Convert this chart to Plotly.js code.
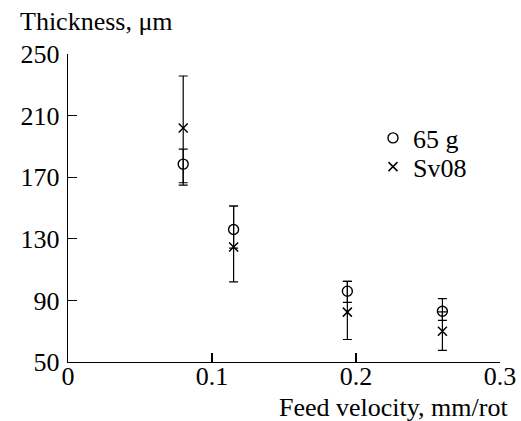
<!DOCTYPE html>
<html>
<head>
<meta charset="utf-8">
<script src="https://cdn.plot.ly/plotly-3.0.1.min.js"></script>
<style>html,body{margin:0;padding:0;background:#fff;}#chart{width:521px;height:421px;}</style>
</head>
<body>
<div id="chart"></div>
<script>
// Feed velocity, mm/rot
const feedVelocity = [0.08, 0.115, 0.194, 0.26];

// Series "65 g"
const thickness65g = [178.5, 136, 96, 83];
const err65gPlus = [9.7, 15.3, 6.4, 8.1];
const err65gMinus = [12.1, 12, 7.3, 6];

// Series "Sv08"
const thicknessSv08 = [201.9, 124.7, 82.4, 70];
const errSv08Plus = [33.8, 26.6, 20, 12.5];
const errSv08Minus = [37, 22.7, 17.8, 12.5];

const xTicks = [0, 0.1, 0.2, 0.3];
const xTickText = ['0', '0.1', '0.2', '0.3'];
const yTicks = [50, 90, 130, 170, 210, 250];

const FONT = 'Liberation Serif';
const FS = 26;

const traces = [
  {
    x: feedVelocity, y: thickness65g, name: '65 g', type: 'scatter', mode: 'markers',
    legend: 'legend',
    marker: {symbol: 'circle-open', size: 10, color: '#000', line: {width: 1.4, color: '#000'}},
    error_y: {type: 'data', symmetric: false, array: err65gPlus, arrayminus: err65gMinus,
      color: '#000', thickness: 1.2, width: 4.5}
  },
  {
    x: feedVelocity, y: thicknessSv08, name: 'Sv08', type: 'scatter', mode: 'markers',
    legend: 'legend2',
    marker: {symbol: 'x-thin-open', size: 9, color: '#000', line: {width: 1.5, color: '#000'}},
    error_y: {type: 'data', symmetric: false, array: errSv08Plus, arrayminus: errSv08Minus,
      color: '#000', thickness: 1.2, width: 4.5}
  }
];

const legendCommon = {xanchor: 'left', yanchor: 'middle', bgcolor: 'rgba(0,0,0,0)',
  font: {family: FONT, size: FS, color: '#000'}};

const layout = {
  width: 521, height: 421,
  margin: {l: 68, r: 21, t: 54, b: 59},
  paper_bgcolor: '#fff', plot_bgcolor: '#fff',
  font: {family: FONT, size: FS, color: '#000'},
  showlegend: true,
  legend: Object.assign({x: 0.706, y: (362 - 138) / 308}, legendCommon),
  legend2: Object.assign({x: 0.706, y: (362 - 166.7) / 308}, legendCommon),
  xaxis: {
    range: [0, 0.3], tickvals: xTicks, ticktext: xTickText,
    ticks: 'inside', ticklen: 9, tickwidth: 1.3, tickcolor: '#000',
    showline: true, linewidth: 1.3, linecolor: '#000',
    showgrid: false, zeroline: false, ticklabelstandoff: -10,
    tickfont: {family: FONT, size: FS, color: '#000'}
  },
  yaxis: {
    range: [50, 250], tickvals: yTicks,
    ticks: 'inside', ticklen: 9, tickwidth: 1.3, tickcolor: '#000',
    showline: true, linewidth: 1.3, linecolor: '#000',
    showgrid: false, zeroline: false, ticklabelstandoff: 2,
    tickfont: {family: FONT, size: FS, color: '#000'}
  },
  annotations: [
    {text: 'Thickness, μm', xref: 'paper', yref: 'paper', x: -0.1157, y: 1.104,
      xanchor: 'left', yanchor: 'middle', showarrow: false,
      font: {family: FONT, size: FS, color: '#000'}},
    {text: 'Feed velocity, mm/rot', xref: 'paper', yref: 'paper', x: 1.023, y: -0.149,
      xanchor: 'right', yanchor: 'middle', showarrow: false,
      font: {family: FONT, size: FS, color: '#000'}}
  ]
};

Plotly.newPlot('chart', traces, layout, {staticPlot: true, displayModeBar: false});
</script>
</body>
</html>
